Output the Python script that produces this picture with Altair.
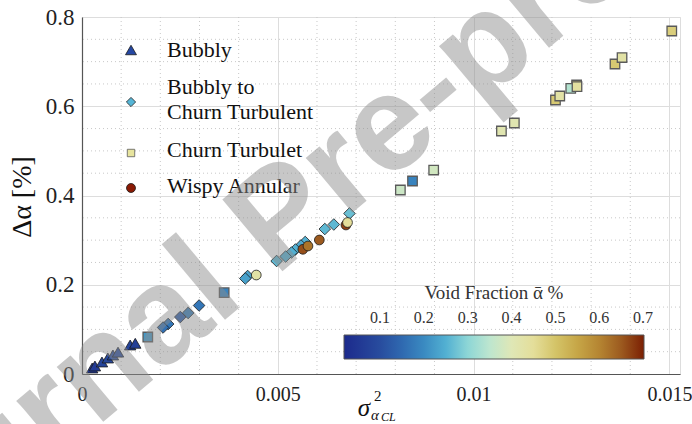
import altair as alt
import pandas as pd

# ---- measurements: variance of centreline void fraction vs. void-fraction error ----
# Bubbly
bub_x = [0.00026, 0.00033, 0.00051, 0.00066, 0.00079, 0.00092, 0.00123, 0.00136]
bub_y = [0.0134, 0.0179, 0.0269, 0.0358, 0.0426, 0.0490, 0.0650, 0.0688]
bub_vf = [0.05, 0.06, 0.08, 0.09, 0.10, 0.10, 0.08, 0.07]

# Bubbly to churn turbulent
btc_x = [0.00683, 0.00643, 0.00620, 0.00570, 0.00559, 0.00545, 0.00535, 0.00520,
         0.00497, 0.00423, 0.00417, 0.00299, 0.00271, 0.00251, 0.00220, 0.00207]
btc_y = [0.3597, 0.3350, 0.3249, 0.2958, 0.2880, 0.2790, 0.2723, 0.2633,
         0.2532, 0.2196, 0.2140, 0.1535, 0.1367, 0.1277, 0.1120, 0.1042]
btc_vf = [0.27, 0.26, 0.26, 0.25, 0.24, 0.25, 0.25, 0.25,
          0.26, 0.23, 0.23, 0.17, 0.18, 0.13, 0.17, 0.16]

# Churn turbulent
cht_x = [0.00168, 0.00363, 0.00813, 0.00844, 0.00898, 0.01071, 0.01104, 0.01209,
         0.01220, 0.01263, 0.01248, 0.01264, 0.01361, 0.01379, 0.01506]
cht_y = [0.0829, 0.1822, 0.4123, 0.4325, 0.4571, 0.5445, 0.5625, 0.6140,
         0.6230, 0.6476, 0.6401, 0.6438, 0.6947, 0.7092, 0.7686]
cht_vf = [0.22, 0.19, 0.37, 0.19, 0.38, 0.41, 0.41, 0.49,
          0.43, 0.50, 0.34, 0.44, 0.49, 0.43, 0.48]

# Wispy annular
wsp_x = [0.00445, 0.00564, 0.00577, 0.00606, 0.00674, 0.00678]
wsp_y = [0.2218, 0.2794, 0.2868, 0.3003, 0.3339, 0.3395]
wsp_vf = [0.43, 0.66, 0.62, 0.65, 0.67, 0.45]

x_ticks = [0, 0.005, 0.01, 0.015]
y_ticks = [0, 0.2, 0.4, 0.6, 0.8]
x_minor = [0.001, 0.002, 0.003, 0.004, 0.006, 0.007, 0.008, 0.009,
           0.011, 0.012, 0.013, 0.014]
y_minor = [0.05, 0.1, 0.15, 0.25, 0.3, 0.35, 0.45, 0.5, 0.55, 0.65, 0.7, 0.75]
cbar_ticks = [0.1, 0.2, 0.3, 0.4, 0.5, 0.6, 0.7]

# diverging blue-cyan-yellow-brown colour map
cmap_stops = [0.018, 0.1, 0.15, 0.2, 0.25, 0.3, 0.35, 0.4, 0.45, 0.5, 0.55, 0.6, 0.65, 0.702]
cmap_colors = ["#1c2a8c", "#284c9e", "#2f69b0", "#3a8ac1", "#52b0d2", "#8dd6d6", "#bde6cf",
               "#dfe7b6", "#e4de9a", "#d4c468", "#c6a647", "#b58532", "#9c5a1f", "#7b1f03"]

SERIF = "Liberation Serif"
W, H = 598, 357
X_MAX = 0.01527

x_scale = alt.Scale(domain=[0, X_MAX], nice=False, zero=False)
y_scale = alt.Scale(domain=[0, 0.8], nice=False, zero=False)
c_scale = alt.Scale(domain=cmap_stops, range=cmap_colors, interpolate="rgb")

# horizontal colour bar with its tick labels sitting above the gradient
cb_legend = alt.Legend(
    title="Void Fraction ᾱ %", orient="none", legendX=262, legendY=267,
    direction="horizontal", gradientLength=300, gradientThickness=24,
    values=cbar_ticks, format=".1f",
    labelFont=SERIF, labelFontSize=16, labelColor="#333",
    labelOffset={"expr": "-49"},
    titleFont=SERIF, titleFontSize=19, titleFontWeight="normal", titleColor="#333",
    titleAnchor="middle", titlePadding=32, padding=0,
    gradientStrokeColor="#555", gradientStrokeWidth=1,
)

x_axis = alt.Axis(values=x_ticks, format="~g", title=None, grid=True, gridColor="#dddddd",
                  gridWidth=1, domainColor="#555", domainWidth=1.2, ticks=False,
                  labelFont=SERIF, labelFontSize=20, labelColor="#222", labelPadding=10,
                  labelFlush=False)
y_axis = alt.Axis(values=y_ticks, format="~g", title=None, grid=True, gridColor="#dddddd",
                  gridWidth=1, domainColor="#555", domainWidth=1.2, ticks=False,
                  labelFont=SERIF, labelFontSize=23, labelColor="#222", labelPadding=8,
                  labelFlush=False)

X_ENC = dict(scale=x_scale, axis=x_axis)
Y_ENC = dict(scale=y_scale, axis=y_axis)


def frame(xs, ys, vfs):
    return pd.DataFrame({"sx": xs, "dy": ys, "vf": vfs})


def regime(xs, ys, vfs, shape, size, stroke, sw):
    return alt.Chart(frame(xs, ys, vfs)).mark_point(
        shape=shape, filled=True, size=size, stroke=stroke, strokeWidth=sw, opacity=1
    ).encode(
        x=alt.X("sx:Q", **X_ENC),
        y=alt.Y("dy:Q", **Y_ENC),
        color=alt.Color("vf:Q", scale=c_scale, legend=cb_legend),
    )


minor_v = alt.Chart(pd.DataFrame({"v": x_minor})).mark_rule(
    color="#c8c8c8", strokeWidth=1, strokeDash=[1, 3]
).encode(x=alt.X("v:Q", **X_ENC))
minor_h = alt.Chart(pd.DataFrame({"v": y_minor})).mark_rule(
    color="#c8c8c8", strokeWidth=1, strokeDash=[1, 3]
).encode(y=alt.Y("v:Q", **Y_ENC))

bubbly = regime(bub_x, bub_y, bub_vf, "triangle-up", 130, "#1a1a1a", 0.8)
transition = regime(btc_x, btc_y, btc_vf, "diamond", 135, "#1a1a1a", 0.8)
churn = regime(cht_x, cht_y, cht_vf, "square", 90, "#5a5a5a", 1.3)
wispy = regime(wsp_x, wsp_y, wsp_vf, "circle", 95, "#1a1a1a", 0.8)


def label(text, x, y, size=22, align="left", angle=0, style="normal", color="#111"):
    return alt.Chart(pd.DataFrame({"t": [text]})).mark_text(
        font=SERIF, fontSize=size, align=align, baseline="middle", angle=angle,
        fontStyle=style, color=color
    ).encode(text="t:N", x=alt.value(x), y=alt.value(y))


def key(shape, size, fill, stroke, x, y):
    return alt.Chart(pd.DataFrame({"k": [shape]})).mark_point(
        shape=shape, filled=True, size=size, fill=fill, stroke=stroke, strokeWidth=0.8, opacity=1
    ).encode(x=alt.value(x), y=alt.value(y))


keys = [
    key("triangle-up", 120, "#2547a3", "#1a1a1a", 49, 33),
    key("diamond", 85, "#55b5d6", "#1a1a1a", 49, 85),
    key("square", 55, "#e7e49e", "#5a5a5a", 49, 136),
    key("circle", 80, "#8a1a04", "#1a1a1a", 49, 171),
]
key_text = [
    label("Bubbly", 85, 33),
    label("Bubbly to", 85, 70),
    label("Churn Turbulent", 85, 95),
    label("Churn Turbulet", 85, 133),
    label("Wispy Annular", 85, 169),
]

titles = [
    label("Δα [%]", -59, 180, size=28, align="center", angle=270),
    label("σ", 282, 391, size=25, align="center", style="italic"),
    label("2", 292, 379, size=15, align="left"),
    label("α", 289, 398, size=15, align="left", style="italic"),
    label("CL", 299, 400, size=12, align="left", style="italic"),
]

watermark = alt.Chart(pd.DataFrame({"t": ["Journal Pre-proof"]})).mark_text(
    font="Liberation Sans", fontSize=136, fontWeight="bold", align="center",
    baseline="middle", angle=320, color="#8c8c8c", opacity=0.48
).encode(text="t:N", x=alt.value(199), y=alt.value(202))

chart = alt.layer(
    minor_v, minor_h, bubbly, transition, churn, wispy, *keys, *key_text, *titles, watermark
).properties(
    width=W, height=H,
    autosize=alt.AutoSizeParams(type="none"),
    padding={"left": 82, "top": 17, "right": 12, "bottom": 50},
).configure_view(stroke=None).configure(background="white")

chart.save("out.html", embed_options={"renderer": "svg", "actions": False})
